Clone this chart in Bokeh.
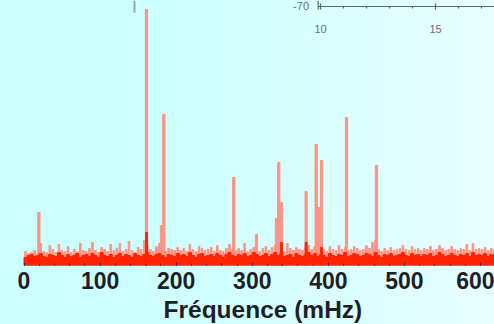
from bokeh.plotting import figure
from bokeh.models import Range1d, FixedTicker, Title
from bokeh.core.properties import value
from bokeh.embed import file_html
from bokeh.resources import INLINE
try:
    from bokeh.models import GlobalInlineStyleSheet
except ImportError:
    GlobalInlineStyleSheet = None

# ---- data ----
pic_freq = [19.5, 161, 180.7, 183.8, 275.7, 305.5, 331.8, 334.8, 338.4, 370.8, 384, 387.4, 391, 423.8, 463.2]
pic_ampl = [53, 256, 40, 151, 88, 31, 47, 103, 63, 74, 121, 58, 105, 148, 100]

pic_fonce_freq = [161, 338.4, 370.8, 391]
pic_fonce_ampl = [33, 23, 23, 18]

bruit_debut = 2
bruit_pas = 4
bruit_fonce = [8, 10, 11, 9, 10, 12, 9, 8, 11, 10,
               9, 13, 10, 8, 11, 9, 10, 12, 8, 10,
               11, 9, 12, 10, 8, 13, 10, 9, 11, 8,
               10, 12, 9, 11, 10, 8, 12, 10, 9, 11,
               13, 10, 9, 11, 12, 10, 8, 11, 10, 9,
               12, 10, 11, 9, 13, 10, 8, 11, 12, 9,
               10, 11, 9, 12, 10, 8, 11, 13, 10, 9,
               11, 10, 12, 9, 10, 13, 11, 9, 10, 12,
               9, 11, 13, 10, 12, 9, 10, 11, 8, 12,
               10, 9, 11, 13, 10, 12, 9, 11, 10, 8,
               12, 10, 9, 11, 10, 13, 9, 10, 12, 11,
               9, 10, 12, 11, 9, 13, 10, 8, 11, 10,
               12, 9, 10, 11, 13, 10, 9, 12, 10, 11,
               9, 11, 10, 12, 9, 10, 13, 11, 9, 10,
               12, 10, 9, 11, 10, 12, 9, 13, 10, 11,
               10, 12, 9, 11, 10]
bruit_clair = [14, 12, 13, 15, 12, 22, 14, 13, 20, 16,
               13, 21, 15, 14, 19, 13, 16, 14, 22, 15,
               14, 17, 23, 15, 13, 18, 16, 14, 21, 15,
               17, 22, 14, 16, 24, 15, 13, 18, 16, 25,
               20, 16, 14, 19, 22, 15, 14, 17, 16, 15,
               18, 15, 17, 14, 21, 16, 14, 19, 17, 15,
               16, 18, 14, 20, 15, 14, 17, 21, 16, 15,
               17, 15, 22, 14, 16, 18, 15, 14, 17, 19,
               15, 18, 20, 16, 19, 14, 22, 17, 15, 18,
               16, 15, 18, 20, 16, 19, 15, 17, 16, 14,
               19, 16, 15, 20, 16, 18, 15, 16, 19, 17,
               15, 16, 20, 17, 23, 25, 16, 14, 17, 15,
               18, 15, 16, 17, 20, 16, 15, 19, 16, 17,
               15, 17, 16, 19, 15, 16, 20, 17, 15, 16,
               19, 16, 15, 17, 16, 21, 15, 22, 16, 17,
               16, 18, 15, 17, 16]
bruit_freq = [bruit_debut + i * bruit_pas for i in range(len(bruit_fonce))]

x_ticks = [0, 100, 200, 300, 400, 500, 600]
x_label = "Fréquence (mHz)"

# inset (partly visible, top right)
encart_ticks = [10, 15]
encart_mineurs = [11, 12, 13, 14, 16, 17]
encart_ymin = -70
encart_x_debut = 9.9
encart_x_fin = 17.6

repere_x = [145.2]

# ---- figure ----
p = figure(width=494, height=324, output_backend="svg", toolbar_location=None,
           x_range=Range1d(-30.9, 618.3), y_range=Range1d(0, 265),
           min_border_left=0, min_border_right=0, min_border_top=0,
           min_border_bottom=0)
p.background_fill_alpha = 0
p.border_fill_alpha = 0
p.outline_line_color = None
p.grid.visible = False
p.yaxis.visible = False

if GlobalInlineStyleSheet is not None:
    p.stylesheets = [GlobalInlineStyleSheet(css=(
        "html,body{margin:0;padding:0;overflow:hidden;min-height:100%;"
        "background:linear-gradient(to right,#ccffff 0%,#ccffff 30%,#e8ffff 100%);}"))]

rouge_clair = "#fa9487"
rouge = "#ff2400"

p.vbar(x=bruit_freq, top=bruit_clair, bottom=0, width=2.2, color=rouge_clair)
p.vbar(x=pic_freq, top=pic_ampl, bottom=0, width=3.0, color=rouge_clair)
p.vbar(x=bruit_freq, top=bruit_fonce, bottom=0, width=bruit_pas, color=rouge)
p.vbar(x=pic_fonce_freq, top=pic_fonce_ampl, bottom=0, width=2.5, color=rouge)

p.segment(x0=repere_x, x1=repere_x, y0=[253] * len(repere_x), y1=[265] * len(repere_x),
          line_color="#9aa6a6", line_width=2)

ax = p.xaxis[0]
ax.ticker = FixedTicker(ticks=x_ticks, minor_ticks=list(range(0, 620, 20)))
ax.axis_line_color = None
ax.major_tick_in = 3
ax.major_tick_out = 0
ax.minor_tick_in = 2
ax.minor_tick_out = 0
ax.major_tick_line_color = "#552222"
ax.minor_tick_line_color = "#552222"
ax.major_label_text_font = "Liberation Sans"
ax.major_label_text_font_style = "bold"
ax.major_label_text_font_size = "23px"
ax.major_label_text_color = "#1e1e28"
ax.major_label_standoff = 6

p.add_layout(Title(text=x_label, align="left", offset=163,
                   text_font="Liberation Sans", text_font_style="bold",
                   text_font_size="24.5px", text_color="#1e1e28",
                   standoff=4), "below")

# inset drawn through its own ranges
p.extra_x_ranges = {"ex": Range1d(-3.913, 17.565)}
p.extra_y_ranges = {"ey": Range1d(-329, -64)}
enc = dict(x_range_name="ex", y_range_name="ey")
gris = "#5e6666"
p.segment(x0=[encart_x_debut], x1=[encart_x_fin], y0=[encart_ymin], y1=[encart_ymin],
          line_color=gris, line_width=1.2, **enc)
p.segment(x0=[encart_x_debut], x1=[encart_x_debut], y0=[encart_ymin + 6], y1=[encart_ymin - 3],
          line_color=gris, line_width=1.2, **enc)
p.segment(x0=encart_ticks, x1=encart_ticks, y0=[encart_ymin + 3] * 2, y1=[encart_ymin - 3] * 2,
          line_color=gris, line_width=1.2, **enc)
p.segment(x0=encart_mineurs, x1=encart_mineurs, y0=[encart_ymin] * len(encart_mineurs),
          y1=[encart_ymin - 2] * len(encart_mineurs), line_color=gris, line_width=1.2, **enc)
p.text(x=encart_ticks, y=[encart_ymin - 22] * 2, text=[str(t) for t in encart_ticks],
       text_font=value("Liberation Sans"), text_font_size="11px", text_color="#6a7272",
       text_align="center", text_baseline="middle", **enc)
p.text(x=[encart_x_debut - 0.4], y=[encart_ymin + 1], text=[str(encart_ymin)],
       text_font=value("Liberation Sans"), text_font_size="11px", text_color="#6a7272",
       text_align="right", text_baseline="middle", **enc)

open("out.html", "w").write(file_html(p, INLINE))
